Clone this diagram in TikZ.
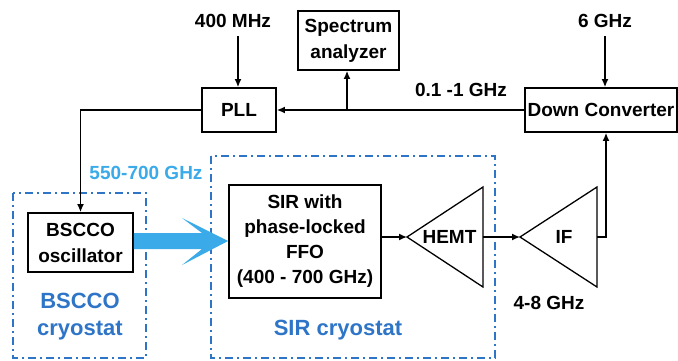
\documentclass[tikz,border=0pt]{standalone}
\usepackage{fontspec}
\setmainfont{Liberation Sans}
\usetikzlibrary{arrows.meta}
\definecolor{dblue}{HTML}{2E75C8}
\definecolor{lblue}{HTML}{3AAAE9}
\begin{document}
\begin{tikzpicture}[x=1pt,y=-1pt,
  font=\fontsize{19}{26}\selectfont\bfseries,
  box/.style={draw, line width=1.8pt, inner sep=0pt, align=center},
  conn/.style={line width=1.4pt, -{Latex[length=8pt,width=7pt]}},
  amp/.style={draw, line width=1.3pt, line join=miter},
  cryo/.style={draw=dblue, line width=1.8pt, dash pattern=on 8pt off 4pt on 2pt off 4pt},
  lbl/.style={inner sep=0pt, align=center},
  bigblue/.style={lbl, text=dblue, font=\fontsize{22}{27}\selectfont\bfseries}]
\useasboundingbox (0,0) rectangle (678,360);

% cryostats
\draw[cryo] (13,193) rectangle (146,358);
\draw[cryo] (211,156) rectangle (495,358);

% boxes
\node[box, minimum width=74pt, minimum height=44pt] (pll) at (239,110) {PLL};
\node[box, minimum width=101pt, minimum height=59pt] (spec) at (348.5,40.5) {Spectrum\\analyzer};
\node[box, minimum width=152pt, minimum height=44pt] (dc) at (601,110) {Down Converter};
\node[box, minimum width=105pt, minimum height=59pt] (bscco) at (80.5,242.5) {BSCCO\\oscillator};
\node[box, minimum width=152pt, minimum height=113pt, font=\fontsize{19}{25}\selectfont\bfseries] (sir) at (305,241.5) {SIR with\\phase-locked\\FFO\\(400 - 700 GHz)};

% amplifiers
\coordinate (hemtTip) at (407,237);
\coordinate (hemtBack) at (483,237);
\draw[amp] (hemtTip) -- (483,187) -- (483,287) -- cycle;
\node[lbl] (hemt) at (449.5,237) {HEMT};
\coordinate (ifTip) at (520,237);
\coordinate (ifBack) at (597,237);
\draw[amp] (ifTip) -- (597,187) -- (597,287) -- cycle;
\node[lbl] (if) at (564,237) {IF};

% labels
\node[lbl] (t400) at (233,21) {400 MHz};
\node[lbl] (t6) at (605,21) {6 GHz};
\node[lbl] (tif) at (461,90) {0.1 -1 GHz};
\node[lbl, text=lblue] (tthz) at (146,173) {550-700 GHz};
\node[lbl] (t48) at (549,303) {4-8 GHz};
\node[bigblue] (tbc) at (80,316.5) {BSCCO\\cryostat};
\node[bigblue] (tsc) at (338,330) {SIR cryostat};

% connectors
\coordinate (c400) at (238,36);
\draw[conn] (c400) -- (c400 |- pll.north);
\coordinate (c6) at (605,36);
\draw[conn] (c6) -- (c6 |- dc.north);
\draw[conn] (dc.west) -- (pll.east);
\coordinate (tap) at (347,110);
\draw[conn] (tap) -- (tap |- spec.south);
\draw[conn] (pll.west) -| (bscco.north);
\draw[conn] (sir.east |- hemtTip) -- (hemtTip);
\draw[conn] (hemtBack) -- (ifTip);
\draw[conn] (ifBack) -| ([xshift=5pt]dc.south);

% big THz beam arrow
\fill[lblue] (bscco.east |- 0,233) -- (202,233) -- (182,218) -- (sir.west |- 0,241)
  -- (182,265) -- (202,249) -- (bscco.east |- 0,249) -- cycle;
\end{tikzpicture}
\end{document}
